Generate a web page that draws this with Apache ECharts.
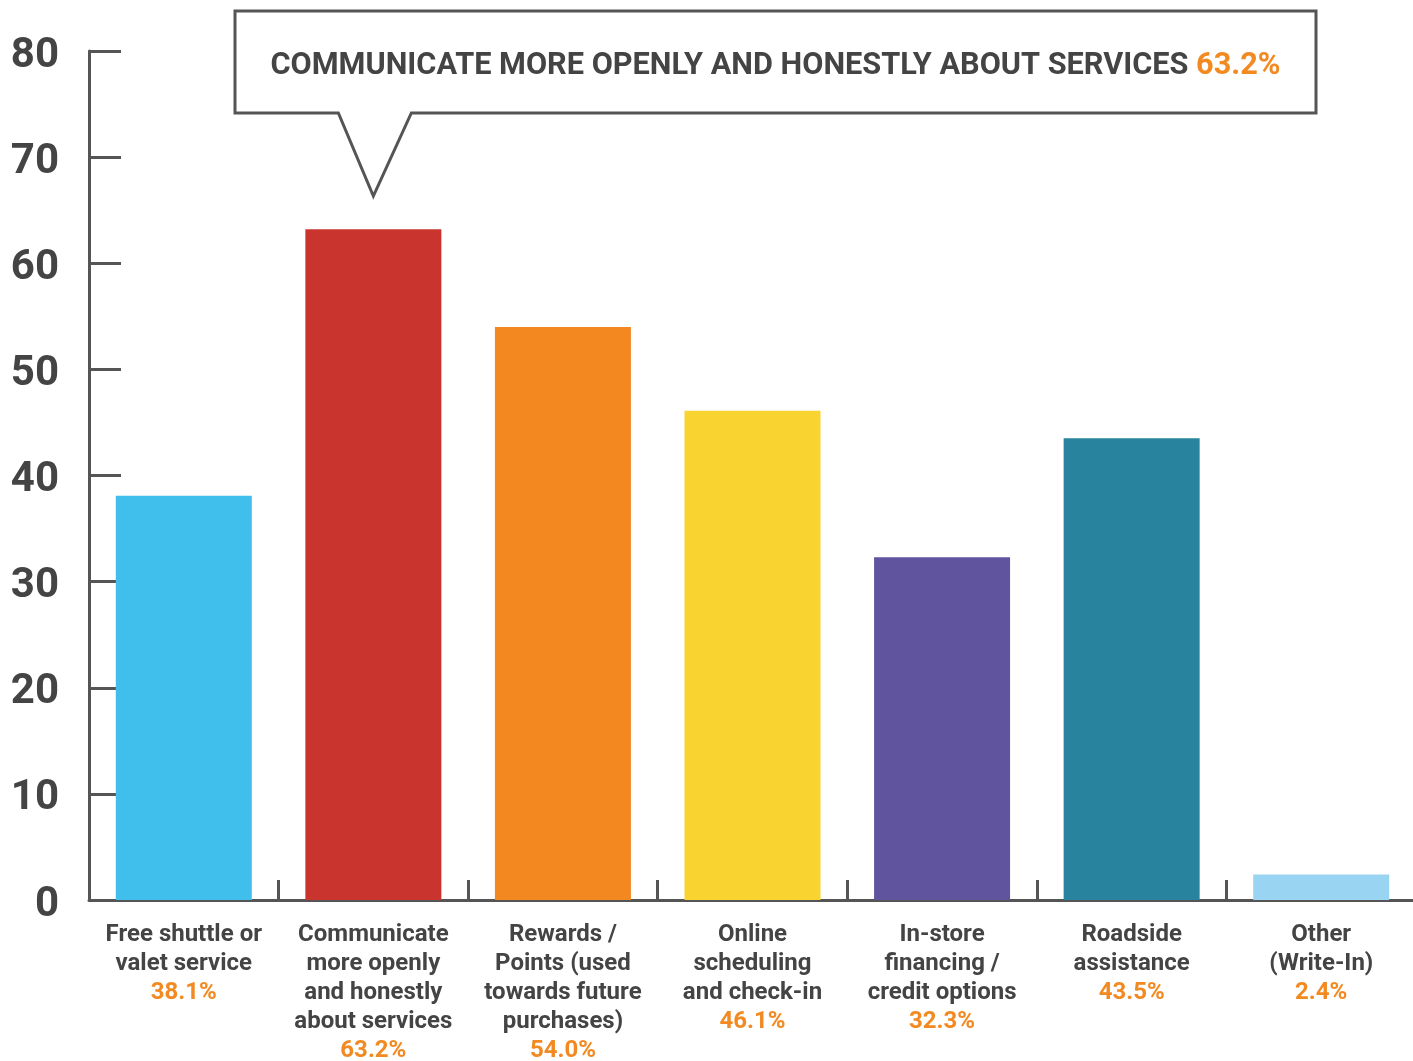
<!DOCTYPE html>
<html>
<head>
<meta charset="utf-8">
<script src="https://cdn.jsdelivr.net/npm/echarts@6/dist/echarts.min.js"></script>
<style>
html,body{margin:0;padding:0;background:#fff;}
#main{width:1413px;height:1061px;}
</style>
</head>
<body>
<div id="main"></div>
<script>
var categories = [
  'Free shuttle or\nvalet service',
  'Communicate\nmore openly\nand honestly\nabout services',
  'Rewards /\nPoints (used\ntowards future\npurchases)',
  'Online\nscheduling\nand check-in',
  'In-store\nfinancing /\ncredit options',
  'Roadside\nassistance',
  'Other\n(Write-In)'
];
var values = [38.1, 63.2, 54.0, 46.1, 32.3, 43.5, 2.4];
var barColors = ['#41BFEC', '#C9342F', '#F38820', '#F9D431', '#5F549D', '#28839F', '#99D5F2'];
var yTicks = [0, 10, 20, 30, 40, 50, 60, 70, 80];
var calloutText = 'COMMUNICATE MORE OPENLY AND HONESTLY ABOUT SERVICES';
var calloutValue = '63.2%';
var highlightIndex = 1;

var AX = '#555555';
var TXT = '#444444';
var ORANGE = '#F28A21';

var chart = echarts.init(document.getElementById('main'));
var option = {
  animation: false,
  backgroundColor: '#ffffff',
  textStyle: { fontFamily: 'Roboto' },
  grid: { left: 89, top: 51, width: 1327, height: 849, containLabel: false, outerBoundsMode: 'none' },
  xAxis: {
    type: 'category',
    data: categories,
    axisLine: { lineStyle: { color: AX, width: 3 } },
    axisTick: { show: true, inside: true, length: 20, lineStyle: { color: AX, width: 3 } },
    axisLabel: {
      interval: 0,
      margin: 20,
      formatter: function (v, i) {
        return '{n|' + v.split('\n').join('}\n{n|') + '}\n{v|' + values[i].toFixed(1) + '%}';
      },
      rich: {
        n: { fontFamily: 'Roboto', fontWeight: 'bold', fontSize: 24, color: TXT, lineHeight: 29 },
        v: { fontFamily: 'Roboto', fontWeight: 'bold', fontSize: 24, color: ORANGE, lineHeight: 29 }
      }
    }
  },
  yAxis: {
    type: 'value',
    min: yTicks[0],
    max: yTicks[yTicks.length - 1],
    interval: 10,
    splitLine: { show: false },
    axisLine: { show: true, lineStyle: { color: AX, width: 3 } },
    axisTick: { show: true, inside: true, length: 32, lineStyle: { color: AX, width: 3 } },
    axisLabel: {
      margin: 30,
      formatter: '{a|{value}}',
      rich: { a: { fontFamily: 'Roboto', fontWeight: 'bold', fontSize: 42, color: TXT, padding: [10, 0, 0, 0] } }
    }
  },
  series: [{
    type: 'bar',
    barWidth: 136,
    data: values.map(function (v, i) { return { value: v, itemStyle: { color: barColors[i] } }; })
  }]
};
chart.setOption(option);

var tipX = chart.convertToPixel({ xAxisIndex: 0 }, highlightIndex);
var boxL = 235, boxR = 1316, boxT = 11, boxB = 113, tipY = 196;
chart.setOption({
  graphic: [{
    type: 'polygon',
    shape: { points: [
      [boxL, boxT], [boxR, boxT], [boxR, boxB], [tipX + 38, boxB],
      [tipX, tipY], [tipX - 35, boxB], [boxL, boxB]
    ] },
    style: { fill: '#ffffff', stroke: AX, lineWidth: 3 },
    z: 100
  }, {
    type: 'text',
    x: (boxL + boxR) / 2,
    y: 66,
    style: {
      text: '{a|' + calloutText + '}{b| ' + calloutValue + '}',
      align: 'center',
      verticalAlign: 'middle',
      rich: {
        a: { fontFamily: 'Roboto', fontWeight: 'bold', fontSize: 30.7, fill: TXT },
        b: { fontFamily: 'Roboto', fontWeight: 'bold', fontSize: 30.7, fill: ORANGE }
      }
    },
    z: 101
  }]
});
</script>
</body>
</html>
